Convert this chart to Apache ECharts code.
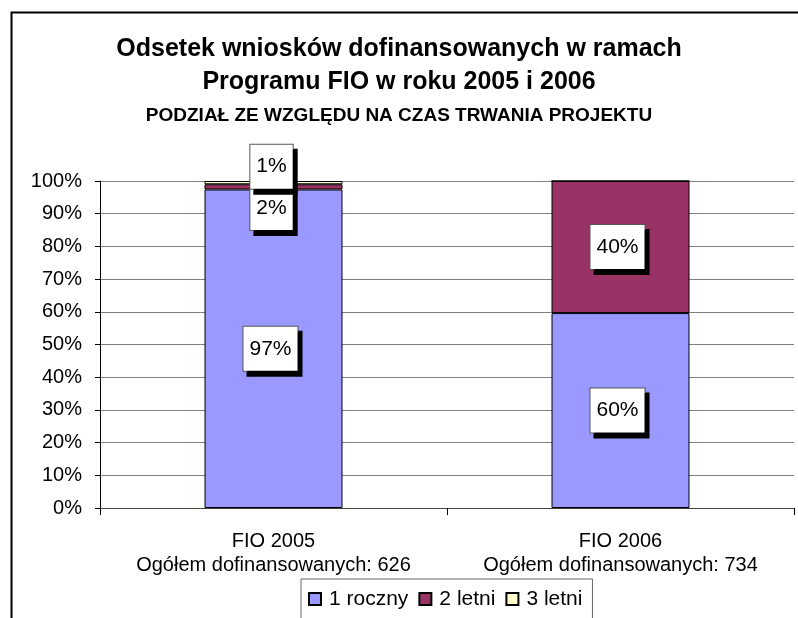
<!DOCTYPE html>
<html lang="pl">
<head>
<meta charset="UTF-8">
<title>FIO 2005 / 2006</title>
<script src="https://cdn.jsdelivr.net/npm/echarts@6/dist/echarts.min.js"></script>
<style>
  html, body { margin: 0; padding: 0; background: #fff; }
  #main { width: 798px; height: 618px; }
</style>
</head>
<body>
<div id="main"></div>
<script>
// dane (procent wniosków)
var categories = ['FIO 2005', 'FIO 2006'];
var totals = [626, 734];
var seriesNames = ['1 roczny', '2 letni', '3 letni'];
var roczny = [97.4, 59.6];
var dwuletni = [1.6, 40.4];
var trzyletni = [1.0, 0];
var yTicks = [0, 10, 20, 30, 40, 50, 60, 70, 80, 90, 100];

var colors = ['#9999FF', '#993366', '#FFFFCC'];
var font = '"Liberation Sans", Arial, sans-serif';

// etykieta w ramce z cieniem jak w Excelu
var boxLabel = {
    show: true,
    position: 'inside',
    formatter: function (p) { return Math.round(p.value) + '%'; },
    fontFamily: font,
    fontSize: 21,
    lineHeight: 24,
    color: '#000',
    backgroundColor: '#fff',
    borderColor: '#555',
    borderWidth: 1,
    padding: [10, 6, 10, 6],
    shadowColor: '#000',
    shadowBlur: 0,
    shadowOffsetX: 4,
    shadowOffsetY: 5,
    offset: [-3, 0]
};

function withLabels(values, offsets) {
    return values.map(function (v, i) {
        if (v === 0) return { value: v, label: { show: false } };
        var item = { value: v };
        if (offsets && offsets[i]) item.label = { offset: offsets[i] };
        return item;
    });
}

var myChart = echarts.init(document.getElementById('main'));
var option = {
    animation: false,
    backgroundColor: '#fff',
    title: {
        text: 'Odsetek wniosków dofinansowanych w ramach\nProgramu FIO w roku 2005 i 2006',
        subtext: 'PODZIAŁ ZE WZGLĘDU NA CZAS TRWANIA PROJEKTU',
        left: 'center',
        top: 28,
        itemGap: 6,
        textStyle: { fontFamily: font, fontSize: 25, fontWeight: 'bold', color: '#000', lineHeight: 33 },
        subtextStyle: { fontFamily: font, fontSize: 19, fontWeight: 'bold', color: '#000', lineHeight: 22 }
    },
    graphic: [{
        type: 'rect',
        left: 9, top: 10,
        shape: { width: 900, height: 700 },
        style: { fill: 'none', stroke: '#000', lineWidth: 2 },
        z: 0
    }],
    legend: {
        data: seriesNames,
        left: 301,
        top: 579,
        padding: [9, 10, 30, 7],
        itemWidth: 12,
        itemHeight: 12,
        itemGap: 10,
        backgroundColor: '#fff',
        borderColor: '#666',
        borderWidth: 1,
        borderRadius: 0,
        icon: 'rect',
        textStyle: { fontFamily: font, fontSize: 21, color: '#000', lineHeight: 22, padding: [0, 0, 0, 3] }
    },
    grid: { left: 100, right: 4, top: 181, bottom: 110, containLabel: false },
    xAxis: {
        type: 'category',
        data: categories.map(function (c, i) { return c + '\nOgółem dofinansowanych: ' + totals[i]; }),
        axisLine: { lineStyle: { color: '#444', width: 1 } },
        axisTick: { show: true, interval: 0, length: 7, lineStyle: { color: '#000' } },
        axisLabel: { fontFamily: font, fontSize: 20, color: '#000', lineHeight: 24, margin: 21, interval: 0 }
    },
    yAxis: {
        type: 'value',
        min: 0,
        max: 100,
        interval: 10,
        axisLine: { show: true, lineStyle: { color: '#000' } },
        axisTick: { show: true, length: 5, lineStyle: { color: '#000' } },
        axisLabel: {
            fontFamily: font, fontSize: 20, color: '#000', margin: 18,
            formatter: function (v) { return yTicks.indexOf(v) >= 0 ? v + '%' : ''; }
        },
        splitLine: { show: true, lineStyle: { color: '#808080', width: 1 } }
    },
    series: [
        {
            name: seriesNames[0], type: 'bar', stack: 'all', barWidth: 138,
            itemStyle: { color: colors[0], borderColor: '#000', borderWidth: 1 },
            label: boxLabel,
            data: withLabels(roczny)
        },
        {
            name: seriesNames[1], type: 'bar', stack: 'all', barWidth: 138,
            itemStyle: { color: colors[1], borderColor: '#000', borderWidth: 1 },
            label: boxLabel,
            data: withLabels(dwuletni, [[-2, 21], null])
        },
        {
            name: seriesNames[2], type: 'bar', stack: 'all', barWidth: 138,
            itemStyle: { color: colors[2], borderColor: '#000', borderWidth: 1 },
            label: boxLabel,
            data: withLabels(trzyletni, [[-2, -16], null])
        }
    ]
};
myChart.setOption(option);
</script>
</body>
</html>
